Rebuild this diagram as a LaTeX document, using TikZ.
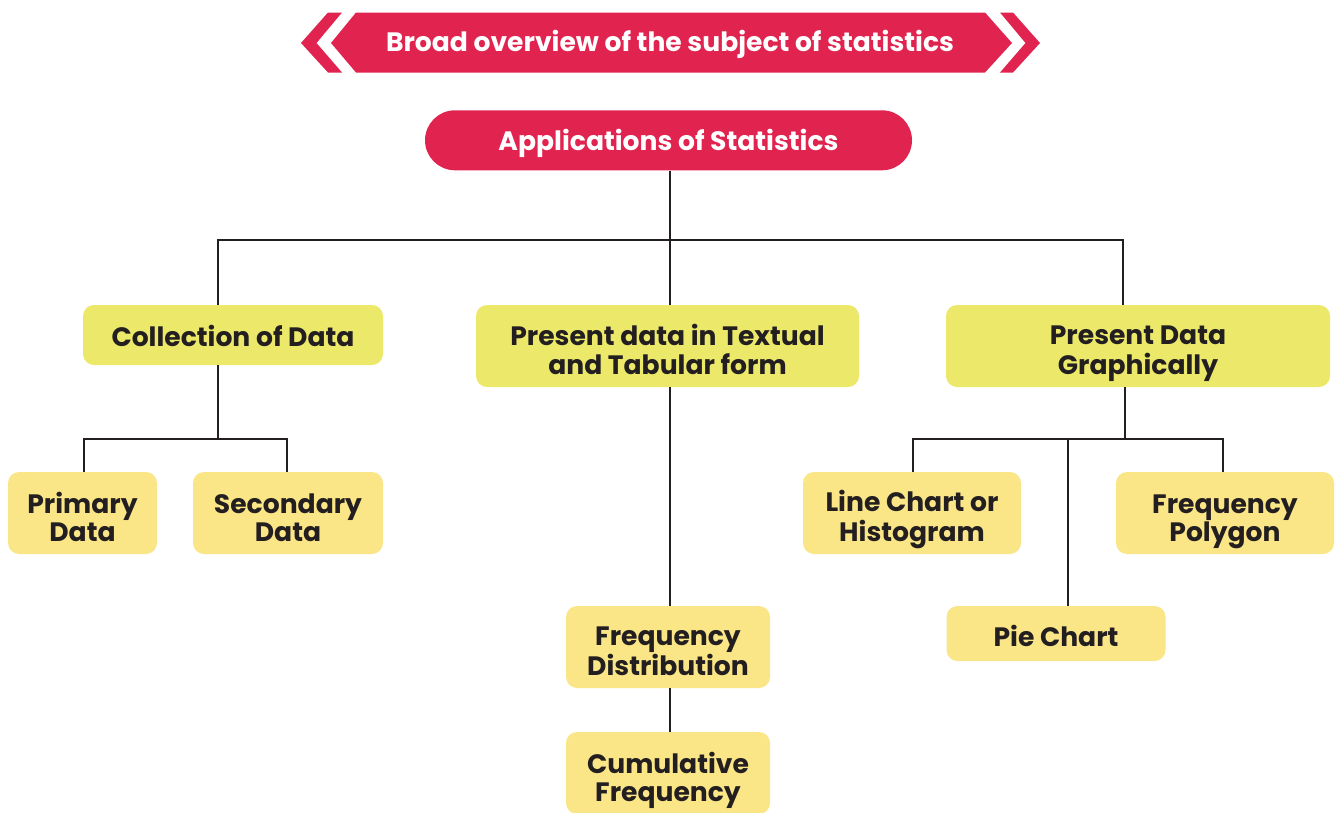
\documentclass[tikz,border=0pt]{standalone}
\usepackage{fontspec}
\setmainfont{Poppins}[BoldFont={Poppins Bold}]
\definecolor{bred}{HTML}{E1234F}
\definecolor{yone}{HTML}{ECE96A}
\definecolor{ytwo}{HTML}{FAE587}
\definecolor{ink}{HTML}{231F20}
\newcommand\oneln[2][24.6pt]{\raisebox{0pt}[#1][0pt]{#2}}
\newcommand\twoln[2]{\raisebox{0pt}[56.8pt][0pt]{\begin{tabular}[b]{@{}c@{}}#1\\#2\end{tabular}}}
\tikzset{
  box/.style={rounded corners=11pt, text=ink, inner sep=0pt,
    font=\bfseries\fontsize{26.6}{28.3}\selectfont},
  lvlone/.style={box, fill=yone},
  lvltwo/.style={box, fill=ytwo},
  conn/.style={draw=ink, line width=2.4pt},
}
\begin{document}
\begin{tikzpicture}[x=1pt,y=-1pt]
\useasboundingbox (0,0) rectangle (1336,812);
\clip (0,0) rectangle (1336,812);
% banner
\fill[bred] (328,12.5) -- (301,43) -- (328,72.5) -- (342,72.5) -- (316.5,43) -- (342,12.5) -- cycle;
\fill[bred] (356,12.5) -- (985,12.5) -- (1012,43) -- (985,72.5) -- (356,72.5) -- (331,43) -- cycle;
\fill[bred] (1000,12.5) -- (1013,12.5) -- (1040,43) -- (1013,72.5) -- (1000,72.5) -- (1025.5,43) -- cycle;
\node[text=white, inner sep=0pt, font=\bfseries\fontsize{26.6}{29}\selectfont] (ban) at (670,42.6) {\oneln[18.5pt]{Broad overview of the subject of statistics}};
% root
\node[fill=bred, rounded corners=30pt, minimum width=487pt, minimum height=60pt, inner sep=0pt,
  text=white, font=\bfseries\fontsize{26.6}{30}\selectfont] (app) at (668.5,140.3) {\oneln[21.3pt]{Applications of Statistics}};
% level one
\node[lvlone, minimum width=300pt, minimum height=60pt] (col) at (233,335) {\oneln[22.6pt]{Collection of Data}};
\node[lvlone, minimum width=383pt, minimum height=82pt] (tab) at (667.5,346) {\twoln{Present data in Textual}{and Tabular form}};
\node[lvlone, minimum width=384pt, minimum height=82pt] (gra) at (1138,346) {\twoln{Present Data}{Graphically}};
% level two
\node[lvltwo, minimum width=149pt, minimum height=82pt] (pri) at (82.5,513) {\twoln{Primary}{Data}};
\node[lvltwo, minimum width=190pt, minimum height=82pt] (sec) at (288,513) {\twoln{Secondary}{Data}};
\node[lvltwo, minimum width=204pt, minimum height=82pt] (fdi) at (668,647) {\twoln{Frequency}{Distribution}};
\node[lvltwo, minimum width=204pt, minimum height=82pt] (cum) at (668,773) {\twoln{Cumulative}{Frequency}};
\node[lvltwo, minimum width=218pt, minimum height=82pt] (lch) at (912,513) {\twoln{Line Chart or}{Histogram}};
\node[lvltwo, minimum width=218pt, minimum height=82pt] (fpo) at (1225,513) {\twoln{Frequency}{Polygon}};
\node[lvltwo, minimum width=219pt, minimum height=55pt] (pie) at (1056,633.5) {\oneln[26.6pt]{Pie Chart}};
% connectors
\coordinate (j0) at (670,240);
\coordinate (jL) at (218,240);
\coordinate (jR) at (1123,240);
\draw[conn] (j0 |- app.south) -- (j0 |- tab.north);
\draw[conn] (jL |- col.north) -- (jL) -- (jR) -- (jR |- gra.north);
\coordinate (c0) at (218,439);
\coordinate (cL) at (84,439);
\coordinate (cR) at (287,439);
\draw[conn] (c0 |- col.south) -- (c0);
\draw[conn] (cL |- pri.north) -- (cL) -- (cR) -- (cR |- sec.north);
\draw[conn] (j0 |- tab.south) -- (j0 |- fdi.north);
\draw[conn] (j0 |- fdi.south) -- (j0 |- cum.north);
\coordinate (g0) at (1125,439);
\coordinate (gL) at (913,439);
\coordinate (gM) at (1068,439);
\coordinate (gR) at (1223,439);
\draw[conn] (g0 |- gra.south) -- (g0);
\draw[conn] (gL |- lch.north) -- (gL) -- (gR) -- (gR |- fpo.north);
\draw[conn] (gM) -- (gM |- pie.north);
\end{tikzpicture}
\end{document}
